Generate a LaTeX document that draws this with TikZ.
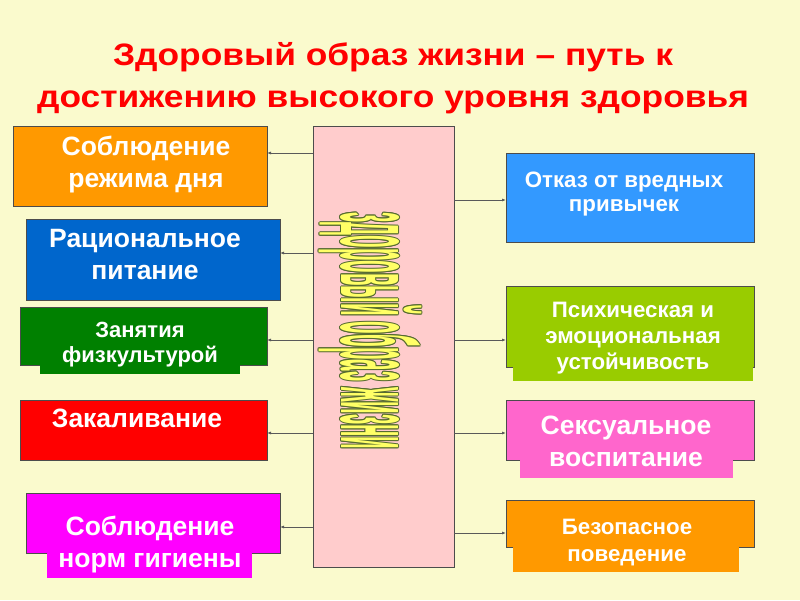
\documentclass[tikz,border=0pt]{standalone}
\usepackage{fontspec}
\setmainfont{Liberation Sans}
\usepackage{graphicx}
\usetikzlibrary{arrows.meta}
\definecolor{bg}{RGB}{250,250,205}
\definecolor{ctitle}{RGB}{255,0,0}
\definecolor{corange}{RGB}{255,153,0}
\definecolor{cblue}{RGB}{0,102,204}
\definecolor{cgreen}{RGB}{0,128,0}
\definecolor{cred}{RGB}{255,0,0}
\definecolor{cmag}{RGB}{255,0,255}
\definecolor{cblue2}{RGB}{51,153,255}
\definecolor{clime}{RGB}{153,204,0}
\definecolor{cpinkr}{RGB}{255,102,204}
\definecolor{ccenter}{RGB}{255,204,204}
\definecolor{vfill}{RGB}{255,255,102}
\definecolor{vline}{RGB}{85,107,47}
\newcommand\zojtext{\scalebox{0.19}[1]{\fontsize{108}{108}\selectfont\bfseries здоровый образ жизни}}
\begin{document}
\begin{tikzpicture}[x=1pt,y=-1pt,
  box/.style={draw=black!70, line width=0.8pt, rectangle, inner sep=0pt, outer sep=0pt},
  lbl/.style={text=white, align=center, inner sep=0pt},
  big/.style={font=\bfseries\fontsize{26.5}{32}\selectfont},
  conn/.style={draw=black!65, line width=1pt, -{Latex[length=4pt,width=3pt]}},
  vtx/.style={rotate=-90, inner sep=0pt}
]
\useasboundingbox (0,0) rectangle (800,600);
\fill[bg] (0,0) rectangle (800,600);

% title
\node[text=ctitle, align=center, inner sep=0pt, font=\bfseries\fontsize{31}{42}\selectfont\addfontfeature{FakeStretch=1.14}] (T) at (393,78)
  {Здоровый образ жизни – путь к\\достижению высокого уровня здоровья};

% centre box
\node[box, fill=ccenter, minimum width=141pt, minimum height=441pt] (C) at (383.5,346.5) {};

% left boxes
\node[box, fill=corange, minimum width=254pt, minimum height=80pt] (L1) at (140,166) {};
\node[box, fill=cblue, minimum width=254pt, minimum height=81pt] (L2) at (153,259.5) {};
\node[box, fill=cgreen, minimum width=247pt, minimum height=58pt] (L3) at (143.5,336) {};
\fill[cgreen] (40,364) rectangle (240,374);
\node[box, fill=cred, minimum width=247pt, minimum height=60pt] (L4) at (143.5,430) {};
\node[box, fill=cmag, minimum width=254pt, minimum height=60pt] (L5) at (153,523) {};
\fill[cmag] (47,552) rectangle (252,578);

% right boxes
\node[box, fill=cblue2, minimum width=248pt, minimum height=89pt] (R1) at (630,197.5) {};
\node[box, fill=clime, minimum width=248pt, minimum height=81pt] (R2) at (630,326.5) {};
\fill[clime] (513,366) rectangle (753,381);
\node[box, fill=cpinkr, minimum width=248pt, minimum height=60pt] (R3) at (630,430) {};
\fill[cpinkr] (520,459) rectangle (733,478);
\node[box, fill=corange, minimum width=248pt, minimum height=47pt] (R4) at (630,523.5) {};
\fill[corange] (513,546) rectangle (739,572);

% labels
\node[lbl, big] (tL1) at (146,164.2) {Соблюдение\\режима дня};
\node[lbl, big] (tL2) at (145,254.5) {Рациональное\\питание};
\node[lbl, font=\bfseries\fontsize{22}{25}\selectfont] (tL3) at (140,344.8) {Занятия\\физкультурой};
\node[lbl, big] (tL4) at (137,418.5) {Закаливание};
\node[lbl, big] (tL5) at (150,544.2) {Соблюдение\\норм гигиены};
\node[lbl, font=\bfseries\fontsize{22.3}{24}\selectfont] (tR1) at (624,194.2) {Отказ от вредных\\привычек};
\node[lbl, font=\bfseries\fontsize{22.3}{26}\selectfont] (tR2) at (633,338.2) {Психическая и\\эмоциональная\\устойчивость};
\node[lbl, big] (tR3) at (626,441.5) {Сексуальное\\воспитание};
\node[lbl, font=\bfseries\fontsize{22.3}{27}\selectfont] (tR4) at (627,542.7) {Безопасное\\поведение};

% vertical text with outline
\foreach \dx/\dy in {-1/0,1/0,0/-1,0/1,-0.7/-0.7,0.7/0.7,-0.7/0.7,0.7/-0.7}
  \node[vtx, text=vline] at (370+\dx,331+\dy) {\zojtext};
\node[vtx, text=vfill] (V) at (370,331) {\zojtext};

% connectors
\draw[conn] (C.west |- 0,153) -- (L1.east |- 0,153);
\draw[conn] (C.west |- 0,253) -- (L2.east |- 0,253);
\draw[conn] (C.west |- 0,340) -- (L3.east |- 0,340);
\draw[conn] (C.west |- 0,433) -- (L4.east |- 0,433);
\draw[conn] (C.west |- 0,527) -- (L5.east |- 0,527);
\draw[conn] (C.east |- 0,200) -- (R1.west |- 0,200);
\draw[conn] (C.east |- 0,340) -- (R2.west |- 0,340);
\draw[conn] (C.east |- 0,433) -- (R3.west |- 0,433);
\draw[conn] (C.east |- 0,533) -- (R4.west |- 0,533);
\end{tikzpicture}
\end{document}
